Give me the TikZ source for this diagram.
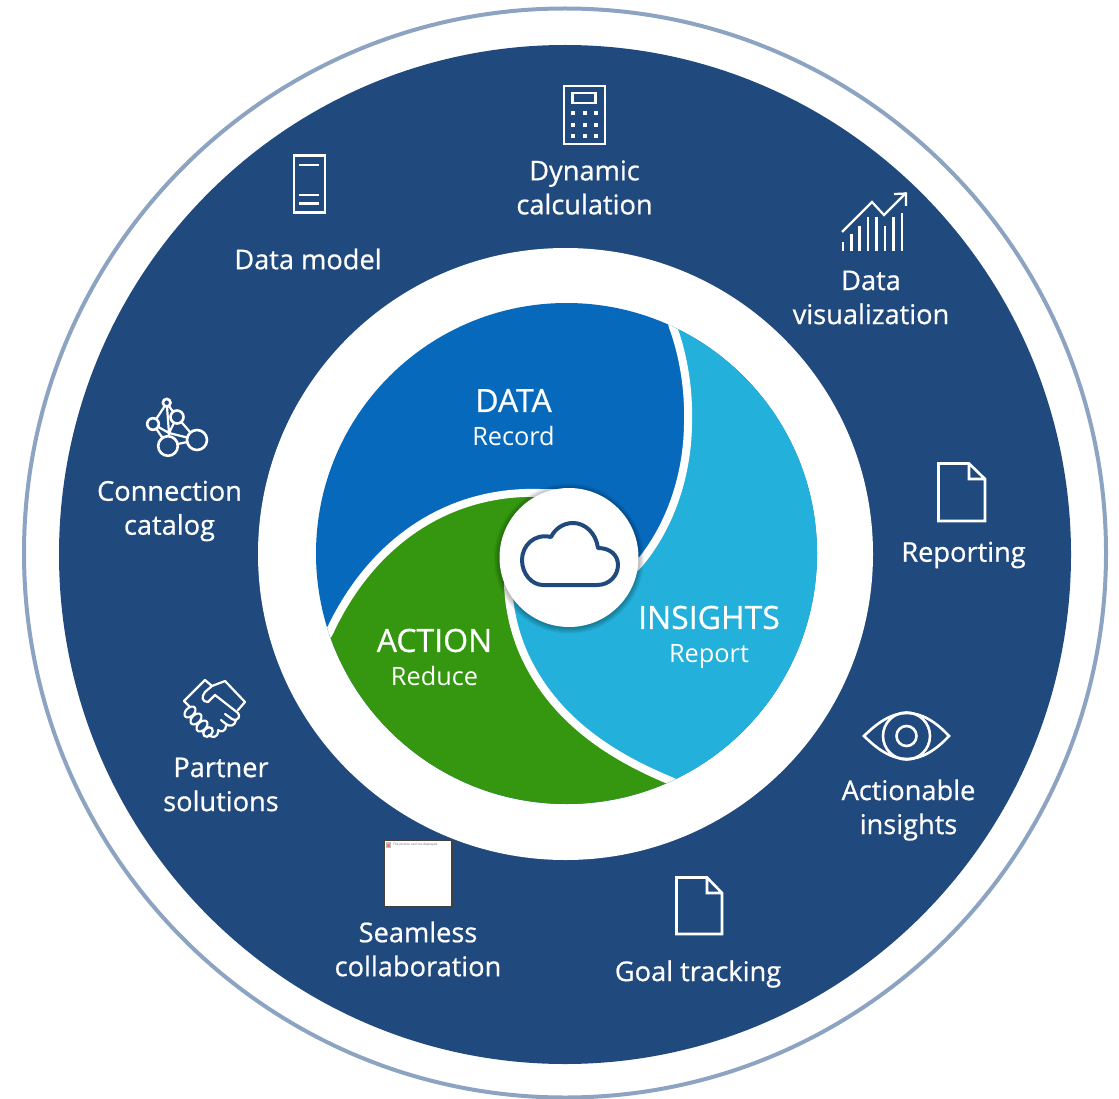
\documentclass[tikz,border=0pt]{standalone}
\usepackage{fontspec}
\setmainfont{Open Sans}
\newfontfamily\labfont{Open Sans}[FakeBold=0.7]
\definecolor{navy}{HTML}{204A7E}
\definecolor{ringc}{HTML}{8CA4C2}
\definecolor{blueseg}{HTML}{0769BC}
\definecolor{cyanseg}{HTML}{23B0DA}
\definecolor{greenseg}{HTML}{34970F}
\tikzset{
  lab/.style={text=white,font=\labfont\fontsize{27.2}{34}\selectfont,align=center,inner sep=0pt},
  headlab/.style={text=white,font=\labfont\fontsize{32}{36}\selectfont,inner sep=0pt},
  sublab/.style={text=white,font=\fontsize{25.3}{30}\selectfont,inner sep=0pt},
  icon/.style={draw=white,line width=2.6pt,fill=none,line join=miter},
  iconthin/.style={draw=white,line width=2.2pt,fill=none,line join=round,line cap=round},
  gap/.style={draw=white,line width=8pt,fill=none}
}
\begin{document}
\begin{tikzpicture}[x=1pt,y=-1pt]
\useasboundingbox (0,0) rectangle (1119,1099);
\fill[white] (0,0) rectangle (1119,1099);
% rings
\draw[ringc,line width=4pt] (565,553) ellipse[x radius=541,y radius=544.5];
\fill[navy] (565,554.5) ellipse[x radius=506,y radius=509.5];
\fill[white] (565.5,554) ellipse[x radius=307.5,y radius=306];
% pie
\begin{scope}
\clip (566.5,553.5) circle[radius=250.5];
\fill[blueseg] (300,280) rectangle (830,830);
\fill[cyanseg] (668,310) -- (673,327) .. controls (685,360) and (689,395) .. (688,425) .. controls (687,480) and (668,530) .. (638,565) -- (569,557) -- (508,585) .. controls (510,625) and (522,655) .. (538,680) .. controls (570,730) and (620,760) .. (671,781) -- (700,795) -- (840,795) -- (840,310) -- cycle;
\fill[greenseg] (320,647) -- (329,633) .. controls (372,540) and (450,490) .. (540,493) -- (569,557) -- (508,585) .. controls (510,625) and (522,655) .. (538,680) .. controls (570,730) and (620,760) .. (671,781) -- (700,795) -- (700,830) -- (300,830) -- (300,647) -- cycle;
\draw[gap] (668,310) -- (673,327) .. controls (685,360) and (689,395) .. (688,425) .. controls (687,480) and (668,530) .. (638,565) -- (620,583);
\draw[gap] (320,647) -- (329,633) .. controls (372,540) and (450,490) .. (540,493) -- (560,493);
\draw[gap] (508,565) -- (508,585) .. controls (510,625) and (522,655) .. (538,680) .. controls (570,730) and (620,760) .. (671,781) -- (700,795);
\end{scope}
% centre disc with a soft shadow
\foreach \r in {75,74,73,72,71,70}{\fill[black,opacity=0.05] (569,558.5) circle[radius=\r];}
\node[circle,fill=white,minimum size=139pt,inner sep=0pt] (hub) at (569,557.5) {};
\draw[navy,line width=4pt,line join=round] (543,585) -- (597,585) .. controls (610,585) and (618,575) .. (618,565) .. controls (618,555) and (610,548) .. (598,548) .. controls (596,533) and (585,523) .. (573,523) .. controls (563,523) and (555,529) .. (551,537) .. controls (534,533) and (522,546) .. (522,560) .. controls (522,574) and (532,585) .. (543,585) -- cycle;
% pie texts
\node[headlab] (t1) at (513.5,400.5) {DATA};
\node[sublab] (t2) at (513.5,436) {Record};
\node[headlab] (t3) at (709,617.5) {INSIGHTS};
\node[sublab] (t4) at (709,657) {Report};
\node[headlab] (t5) at (434.5,640.5) {ACTION};
\node[sublab] (t6) at (434.5,676) {Reduce};
% outer labels
\node[lab] (l1) at (584.5,187.5) {Dynamic\\calculation};
\node[lab] (l2) at (308,259) {Data model};
\node[lab] (l3) at (871,297.5) {Data\\visualization};
\node[lab] (l4) at (963.5,555) {Reporting};
\node[lab] (l5) at (908.5,810) {Actionable\\insights};
\node[lab] (l6) at (698,974) {Goal tracking};
\node[lab] (l7) at (418,949) {Seamless\\collaboration};
\node[lab] (l8) at (221,784.5) {Partner\\solutions};
\node[lab] (l9) at (169.5,511) {Connection\\catalog};
% calculator
\draw[icon] (564,86) rectangle (605,144);
\draw[icon] (572.5,93) rectangle (595.5,103);
\foreach \px in {573,585,596}\foreach \py in {113,125,136}{\fill[white] (\px-2,\py-2) rectangle (\px+2,\py+2);}
% data model
\draw[icon] (294,155.5) rectangle (325,212.5);
\draw[icon] (299,165) -- (319,165) (299,195) -- (319,195) (299,203.5) -- (319,203.5);
% chart
\draw[icon] (843,251) -- (843,242) (851.5,251) -- (851.5,234) (859.5,251) -- (859.5,226) (868,251) -- (868,217) (876.5,251) -- (876.5,217) (885,251) -- (885,226) (893.5,251) -- (893.5,217) (902,251) -- (902,213);
\draw[icon,line width=2.2pt] (842,232) -- (872,202) -- (884,215) -- (906,193);
\draw[icon,line width=2.2pt] (894,194) -- (906,193.5) -- (906,206);
% documents
\draw[icon] (938.5,463.5) -- (969,463.5) -- (985,479) -- (985,521) -- (938.5,521) -- cycle (969,463.5) -- (969,479) -- (985,479);
\draw[icon] (676.5,877.5) -- (707,877.5) -- (722,893) -- (722,934) -- (676.5,934) -- cycle (707,877.5) -- (707,893) -- (722,893);
% eye
\draw[icon] (864,736) .. controls (878,722) and (892,713) .. (907,713) .. controls (922,713) and (936,722) .. (949,736) .. controls (936,750) and (922,759) .. (907,759) .. controls (892,759) and (878,750) .. (864,736) -- cycle;
\draw[icon] (906.5,736) circle[radius=23.5];
\draw[icon] (906.5,736) circle[radius=10];
% network
\draw[iconthin] (166.7,403) -- (153,424) (166.7,403) -- (169,433) (166.7,403) -- (177,417) (153,424) -- (169,433) (177,417) -- (169,433) (177,417) -- (197,440) (169,433) -- (197,440) (169,433) -- (168,446) (153,424) -- (168,446) (168,446) -- (197,440);
\filldraw[navy,draw=white,line width=2.6pt] (166.7,402.7) circle[radius=3.8];
\filldraw[navy,draw=white,line width=2.6pt] (153,424) circle[radius=5.8];
\filldraw[navy,draw=white,line width=2.6pt] (177,417) circle[radius=6.5];
\filldraw[navy,draw=white,line width=2.6pt] (197,440) circle[radius=10];
\filldraw[navy,draw=white,line width=2.6pt] (168,446) circle[radius=9.8];
% handshake
\draw[iconthin] (205,680) -- (184,701) -- (189,706) (205,680) -- (212,686) -- (225,681) -- (245,702) -- (238,710);
\draw[iconthin] (212,686) -- (205,692) .. controls (201,697) and (202,702) .. (208,702) -- (215,695) -- (238,713) .. controls (241,716) and (238,722) .. (232,719) -- (225,714);
\draw[iconthin] (236,720) .. controls (235,726) and (230,727) .. (226,724) -- (221,720) (226,726) .. controls (226,731) and (221,733) .. (218,730) (218,731) .. controls (218,738) and (212,738) .. (209,735);
\begin{scope}[iconthin]
\draw[rotate around={45:(190,712)}] (190,712) ellipse[x radius=6.5,y radius=4.2];
\draw[rotate around={45:(196,719)}] (196,719) ellipse[x radius=6.5,y radius=4.2];
\draw[rotate around={45:(202,726)}] (202,726) ellipse[x radius=6.5,y radius=4.2];
\draw[rotate around={45:(208,732)}] (208,732) ellipse[x radius=5.5,y radius=4];
\end{scope}
% broken picture placeholder
\draw[fill=white,draw=black!75,line width=1.2pt] (384.5,840.5) rectangle (452,907);
\fill[black!25] (386,842) rectangle (391,848);
\fill[red!55] (387,844) rectangle (390,847);
\node[anchor=west,inner sep=0pt,text=black!60,font=\fontsize{3.2}{4}\selectfont] (ph) at (393,844.5) {The picture can't be displayed.};
\end{tikzpicture}
\end{document}
